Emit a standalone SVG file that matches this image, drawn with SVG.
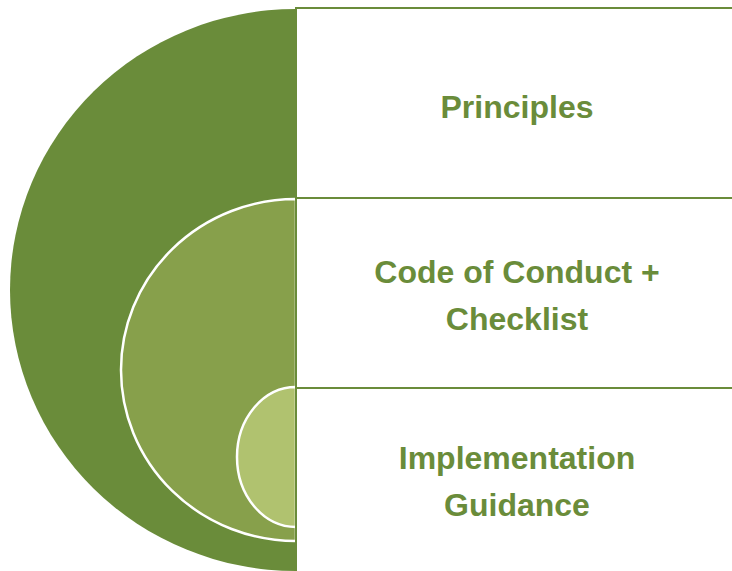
<svg xmlns="http://www.w3.org/2000/svg" width="732" height="571" viewBox="0 0 732 571">
  <style>
    .box { fill: #ffffff; stroke: #6A8C3A; stroke-width: 2; }
    .lbl { font-family: "Liberation Sans", Arial, sans-serif; font-weight: bold; font-size: 32px; fill: #6A8C3A; text-anchor: middle; }
    .ring { stroke: #ffffff; stroke-width: 2.5; }
  </style>
  <rect width="732" height="571" fill="#ffffff"/>
  <g id="node-principles">
    <path d="M296,9 A286,281 0 0 0 296,571 Z" fill="#6A8C3A"/>
  </g>
  <g id="node-code-of-conduct">
    <path class="ring" d="M296,199 A175,171 0 0 0 296,541 Z" fill="#87A04B"/>
  </g>
  <g id="node-implementation">
    <path class="ring" d="M296,387 A59,70 0 0 0 296,527 Z" fill="#B0C26F"/>
  </g>
  <g id="boxes">
    <g id="box-principles">
      <rect class="box" x="296" y="8" width="450" height="190"/>
      <text class="lbl" x="517" y="118">Principles</text>
    </g>
    <g id="box-code-of-conduct">
      <rect class="box" x="296" y="198" width="450" height="190"/>
      <text class="lbl" x="517" y="283">Code of Conduct +</text>
      <text class="lbl" x="517" y="330">Checklist</text>
    </g>
    <g id="box-implementation">
      <rect class="box" x="296" y="388" width="450" height="190"/>
      <text class="lbl" x="517" y="469">Implementation</text>
      <text class="lbl" x="517" y="516">Guidance</text>
    </g>
  </g>
  <g id="connectors"/>
</svg>
